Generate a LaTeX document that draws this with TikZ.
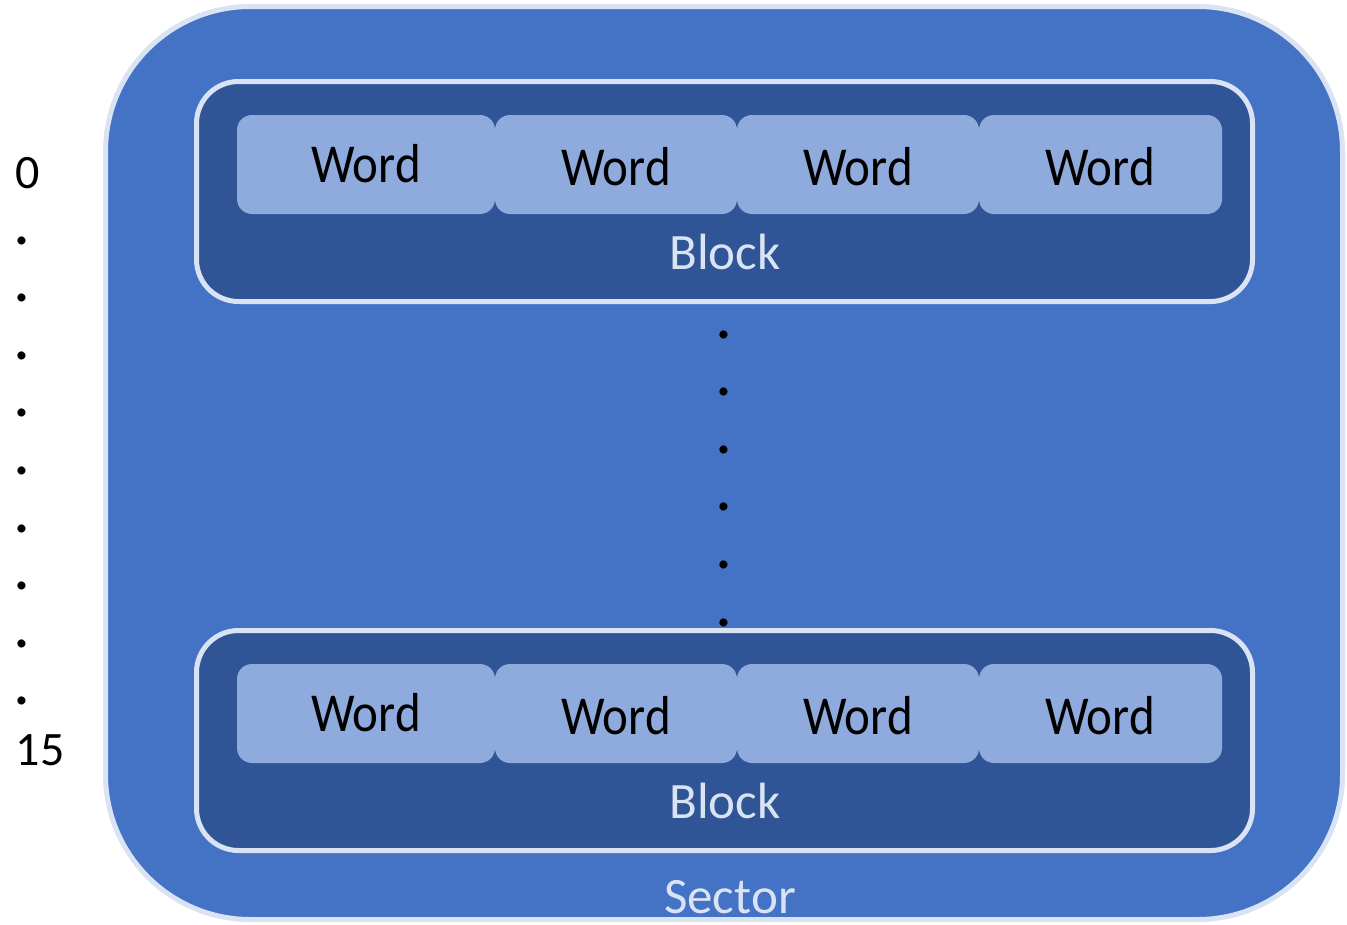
\documentclass[tikz,border=0pt]{standalone}
\usepackage{fontspec}
\setmainfont{Carlito}
\usepackage{graphicx}
\definecolor{sectorfill}{HTML}{4472C4}
\definecolor{blockfill}{HTML}{2F5597}
\definecolor{wordfill}{HTML}{8FAADC}
\definecolor{edgecol}{HTML}{DAE3F3}
\tikzset{
  sectorbox/.style={draw=edgecol, line width=5pt, fill=sectorfill, rounded corners=145pt},
  blockbox/.style={draw=edgecol, line width=5pt, fill=blockfill, rounded corners=42pt},
  wordbox/.style={fill=wordfill, rounded corners=15pt},
  wordtext/.style={anchor=base, inner sep=0pt, font=\fontsize{49}{55}\selectfont, text=black},
  lighttext/.style={anchor=base, inner sep=0pt, font=\fontsize{51}{56}\selectfont, text=edgecol},
  numtext/.style={anchor=base, inner sep=0pt, font=\fontsize{48}{54}\selectfont, text=black},
}
\newcommand{\tallword}{\scalebox{1}[1.12]{Word}}
\newcommand{\bigdot}{\smash{\scalebox{1.4}{.}}}
\begin{document}
\begin{tikzpicture}[x=1pt,y=-1pt]
\useasboundingbox (0,0) rectangle (1347,924);
% sector
\draw[sectorbox] (105.5,6.5) rectangle (1342.5,919.5);
% blocks
\draw[blockbox] (196.5,81.5) rectangle (1252.5,301.5);
\draw[blockbox] (196.5,630.5) rectangle (1252.5,850.5);
% words
\foreach \r/\dy in {a/0,b/549}{
  \fill[wordbox] (237,115+\dy) rectangle (495,214+\dy);
  \fill[wordbox] (495,115+\dy) rectangle (737,214+\dy);
  \fill[wordbox] (737,115+\dy) rectangle (979,214+\dy);
  \fill[wordbox] (979,115+\dy) rectangle (1222,214+\dy);
  \node[wordtext] (w1\r) at (366,182+\dy) {\tallword};
  \node[wordtext] (w2\r) at (616,185+\dy) {\tallword};
  \node[wordtext] (w3\r) at (858,185+\dy) {\tallword};
  \node[wordtext] (w4\r) at (1100,185+\dy) {\tallword};
}
\node[lighttext] (blk1) at (725,269) {Block};
\node[lighttext] (blk2) at (725,818) {Block};
\node[lighttext] (sec) at (730,913) {Sector};
% middle dots
\foreach \i in {0,...,5}{
  \node[numtext] (md\i) at (724,338+57.6*\i) {\bigdot};
}
% left index
\node[numtext] (n0) at (28,188) {0};
\foreach \i in {0,...,8}{
  \node[numtext] (ld\i) at (22,244+57.6*\i) {\bigdot};
}
\node[numtext] (n15) at (40,765) {15};
\end{tikzpicture}
\end{document}
